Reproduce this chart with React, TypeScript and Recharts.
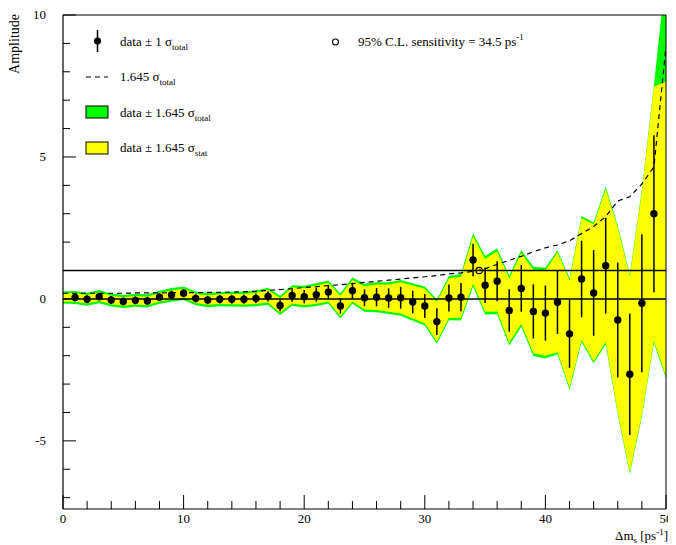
import React from 'react';
import {
  ComposedChart,
  Area,
  Line,
  XAxis,
  YAxis,
  ReferenceLine,
  ReferenceDot,
  ErrorBar,
  Legend,
  Label,
} from 'recharts';

// Δm_s values [ps^-1]
const dm = [
  0, 1, 2, 3, 4, 5, 6, 7, 8, 9,
  10, 11, 12, 13, 14, 15, 16, 17, 18, 19,
  20, 21, 22, 23, 24, 25, 26, 27, 28, 29,
  30, 31, 32, 33, 34, 35, 36, 37, 38, 39,
  40, 41, 42, 43, 44, 45, 46, 47, 48, 49,
  50,
];

// measured amplitude
const amplitude = [
  0.05, 0.05, -0.01, 0.08, -0.04, -0.09, -0.05, -0.07, 0.06, 0.14,
  0.2, 0.02, -0.04, -0.01, -0.01, -0.01, 0.02, 0.09, -0.23, 0.12,
  0.08, 0.15, 0.24, -0.25, 0.29, 0.04, 0.06, 0.03, 0.04, -0.11,
  -0.25, -0.8, 0.03, 0.06, 1.37, 0.48, 0.62, -0.41, 0.37, -0.44,
  -0.5, -0.12, -1.23, 0.7, 0.21, 1.17, -0.74, -2.65, -0.15, 3.0,
  2.46,
];

// 1.645 sigma_total (upper / lower)
const totalUp = [
  0.21, 0.23, 0.23, 0.23, 0.23, 0.23, 0.23, 0.23, 0.23, 0.24,
  0.24, 0.24, 0.25, 0.25, 0.26, 0.27, 0.28, 0.3, 0.34, 0.36,
  0.38, 0.4, 0.41, 0.44, 0.46, 0.49, 0.53, 0.56, 0.63, 0.66,
  0.69, 0.78, 0.78, 0.82, 0.94, 1.03, 1.16, 1.23, 1.35, 1.57,
  1.6, 1.83, 1.97, 2.22, 2.48, 2.78, 3.33, 3.52, 4.0, 4.55,
  9.0,
];
const totalDown = [
  0.21, 0.23, 0.23, 0.23, 0.23, 0.23, 0.23, 0.23, 0.23, 0.24,
  0.24, 0.24, 0.25, 0.25, 0.26, 0.27, 0.28, 0.3, 0.34, 0.36,
  0.38, 0.4, 0.41, 0.44, 0.46, 0.49, 0.53, 0.56, 0.63, 0.66,
  0.69, 0.78, 0.78, 0.82, 0.94, 1.03, 1.16, 1.23, 1.35, 1.57,
  1.6, 1.83, 1.97, 2.22, 2.48, 2.78, 3.33, 3.52, 4.0, 4.55,
  5.26,
];

// 1.645 sigma_stat
const statHalf = [
  0.14, 0.15, 0.15, 0.15, 0.15, 0.15, 0.15, 0.15, 0.15, 0.16,
  0.16, 0.16, 0.17, 0.17, 0.18, 0.19, 0.2, 0.22, 0.26, 0.28,
  0.3, 0.32, 0.33, 0.36, 0.38, 0.41, 0.45, 0.48, 0.55, 0.58,
  0.61, 0.7, 0.7, 0.72, 0.84, 0.93, 1.06, 1.13, 1.25, 1.47,
  1.5, 1.76, 1.9, 2.15, 2.41, 2.7, 3.26, 3.45, 3.93, 4.48,
  5.19,
];

// 1.645 sigma_total (sensitivity curve, dashed)
const sensitivity = [
  0.2, 0.2, 0.2, 0.2, 0.2, 0.2, 0.21, 0.21, 0.21, 0.22,
  0.22, 0.22, 0.23, 0.23, 0.24, 0.25, 0.27, 0.3, 0.33, 0.36,
  0.4, 0.43, 0.47, 0.5, 0.54, 0.58, 0.62, 0.66, 0.7, 0.74,
  0.78, 0.82, 0.88, 0.92, 0.97, 1.06, 1.22, 1.36, 1.5, 1.66,
  1.8, 1.9, 2.05, 2.3, 2.55, 2.9, 3.45, 3.6, 4.05, 4.65,
  8.9,
];

const pointRange = [1, 49];
const sensitivityLimit = { dm: 34.5, amplitude: 1.0 };

const xTicks = [0, 2, 4, 6, 8, 10, 12, 14, 16, 18, 20, 22, 24, 26, 28, 30, 32, 34, 36, 38, 40, 42, 44, 46, 48, 50];
const xMajor = [0, 10, 20, 30, 40, 50];
const yTicks = [-7, -6, -5, -4, -3, -2, -1, 0, 1, 2, 3, 4, 5, 6, 7, 8, 9, 10];
const yMajor = [-5, 0, 5, 10];

const bandData = dm.map((x, i) => ({
  dm: x,
  total: [amplitude[i] - totalDown[i], amplitude[i] + totalUp[i]],
  stat: [amplitude[i] - statHalf[i], amplitude[i] + statHalf[i]],
  sens: sensitivity[i],
}));

const pointData = dm
  .map((x, i) => ({ dm: x, amp: amplitude[i], err: totalUp[i] / 1.645 }))
  .filter((d) => d.dm >= pointRange[0] && d.dm <= pointRange[1]);

const W = 668;
const H = 537;
const PLOT_LEFT = 55;
const PLOT_BOTTOM = 501;
const FONT = '"Liberation Serif", "Times New Roman", serif';

const XTick = (props: any) => {
  const { x, payload } = props;
  const v = payload.value;
  const major = xMajor.includes(v);
  return (
    <g>
      <line x1={x} x2={x} y1={PLOT_BOTTOM} y2={PLOT_BOTTOM - (major ? 14 : 8)} stroke="#000" strokeWidth={1} />
      {major && (
        <text x={x} y={PLOT_BOTTOM + 14} textAnchor="middle" fontFamily={FONT} fontSize={13} fill="#000">
          {v}
        </text>
      )}
    </g>
  );
};

const YTick = (props: any) => {
  const { y, payload } = props;
  const v = payload.value;
  const major = yMajor.includes(v);
  return (
    <g>
      <line x1={PLOT_LEFT} x2={PLOT_LEFT + (major ? 13 : 7)} y1={y} y2={y} stroke="#000" strokeWidth={1} />
      {major && (
        <text x={38} y={y + 4} textAnchor="end" fontFamily={FONT} fontSize={13} fill="#000">
          {v}
        </text>
      )}
    </g>
  );
};

const LegendContent = () => (
  <svg width={W} height={170} style={{ overflow: 'visible', pointerEvents: 'none' }}>
    <g fontFamily={FONT} fontSize={13} fill="#000">
      {/* row 1 */}
      <line x1={89.5} x2={89.5} y1={22} y2={44} stroke="#000" strokeWidth={1.5} />
      <circle cx={89.5} cy={33} r={3.6} fill="#000" />
      <text x={112} y={38}>
        data ± 1 σ<tspan fontSize={9} dy={4}>total</tspan>
      </text>
      {/* row 2 */}
      <line x1={78} x2={100} y1={69} y2={69} stroke="#000" strokeWidth={1.2} strokeDasharray="5 4" />
      <text x={112} y={73}>
        1.645 σ<tspan fontSize={9} dy={4}>total</tspan>
      </text>
      {/* row 3 */}
      <rect x={78} y={98} width={22} height={12} fill="#00ff00" stroke="#000" strokeWidth={1} />
      <text x={112} y={109}>
        data ± 1.645 σ<tspan fontSize={9} dy={4}>total</tspan>
      </text>
      {/* row 4 */}
      <rect x={78} y={134} width={22} height={12} fill="#ffff00" stroke="#000" strokeWidth={1} />
      <text x={112} y={144}>
        data ± 1.645 σ<tspan fontSize={9} dy={4}>stat</tspan>
      </text>
      {/* sensitivity */}
      <circle cx={327.5} cy={34} r={3} fill="none" stroke="#000" strokeWidth={1.2} />
      <text x={350} y={38}>
        95% C.L. sensitivity = {sensitivityLimit.dm} ps<tspan fontSize={9} dy={-6}>-1</tspan>
      </text>
    </g>
  </svg>
);

const YTitle = () => (
  <text
    x={11}
    y={6}
    transform="rotate(-90, 11, 6)"
    textAnchor="end"
    fontFamily={FONT}
    fontSize={14}
    fill="#000"
  >
    Amplitude
  </text>
);

const XTitle = () => (
  <text x={660} y={532} textAnchor="end" fontFamily={FONT} fontSize={13} fill="#000">
    Δm<tspan fontSize={9} dy={3}>s</tspan>
    <tspan dy={-3}> [ps</tspan>
    <tspan fontSize={9} dy={-5}>-1</tspan>
    <tspan dy={5}>]</tspan>
  </text>
);

export default function App() {
  return (
    <ComposedChart
      width={W}
      height={H}
      data={bandData}
      margin={{ top: 7, right: 10, left: 0, bottom: 0 }}
    >
      <Area
        type="linear"
        dataKey="total"
        stroke="none"
        fill="#00ff00"
        fillOpacity={1}
        isAnimationActive={false}
        activeDot={false}
      />
      <Area
        type="linear"
        dataKey="stat"
        stroke="none"
        fill="#ffff00"
        fillOpacity={1}
        isAnimationActive={false}
        activeDot={false}
      />
      <ReferenceLine y={0} stroke="#000" strokeWidth={1.5} />
      <ReferenceLine y={1} stroke="#000" strokeWidth={1.5} />
      <ReferenceLine y={10} stroke="#000" strokeWidth={1} />
      <ReferenceLine x={50} stroke="#000" strokeWidth={1} />
      <Line
        type="linear"
        dataKey="sens"
        stroke="#000"
        strokeWidth={1.2}
        strokeDasharray="5 4"
        dot={false}
        activeDot={false}
        isAnimationActive={false}
      />
      <Line
        data={pointData}
        type="linear"
        dataKey="amp"
        stroke="none"
        dot={{ r: 3.7, fill: '#000', stroke: 'none' }}
        activeDot={false}
        isAnimationActive={false}
      >
        <ErrorBar dataKey="err" width={0} stroke="#000" strokeWidth={1.5} direction="y" />
      </Line>
      <ReferenceDot
        x={sensitivityLimit.dm}
        y={sensitivityLimit.amplitude}
        r={3.2}
        fill="none"
        stroke="#000"
        strokeWidth={1.2}
      />
      <XAxis
        dataKey="dm"
        type="number"
        domain={[0, 50]}
        ticks={xTicks}
        interval={0}
        height={36}
        tick={<XTick />}
        tickLine={false}
        axisLine={{ stroke: '#000', strokeWidth: 1.2 }}
        allowDataOverflow
      >
        <Label content={<XTitle />} />
      </XAxis>
      <YAxis
        type="number"
        domain={[-7.4, 10]}
        ticks={yTicks}
        interval={0}
        width={55}
        tick={<YTick />}
        tickLine={false}
        axisLine={{ stroke: '#000', strokeWidth: 1.2 }}
        allowDataOverflow
      >
        <Label content={<YTitle />} />
      </YAxis>
      <Legend
        verticalAlign="middle"
        align="center"
        layout="horizontal"
        content={<LegendContent />}
        wrapperStyle={{ position: 'absolute', left: 0, top: 0, width: W, height: 170 }}
      />
    </ComposedChart>
  );
}
